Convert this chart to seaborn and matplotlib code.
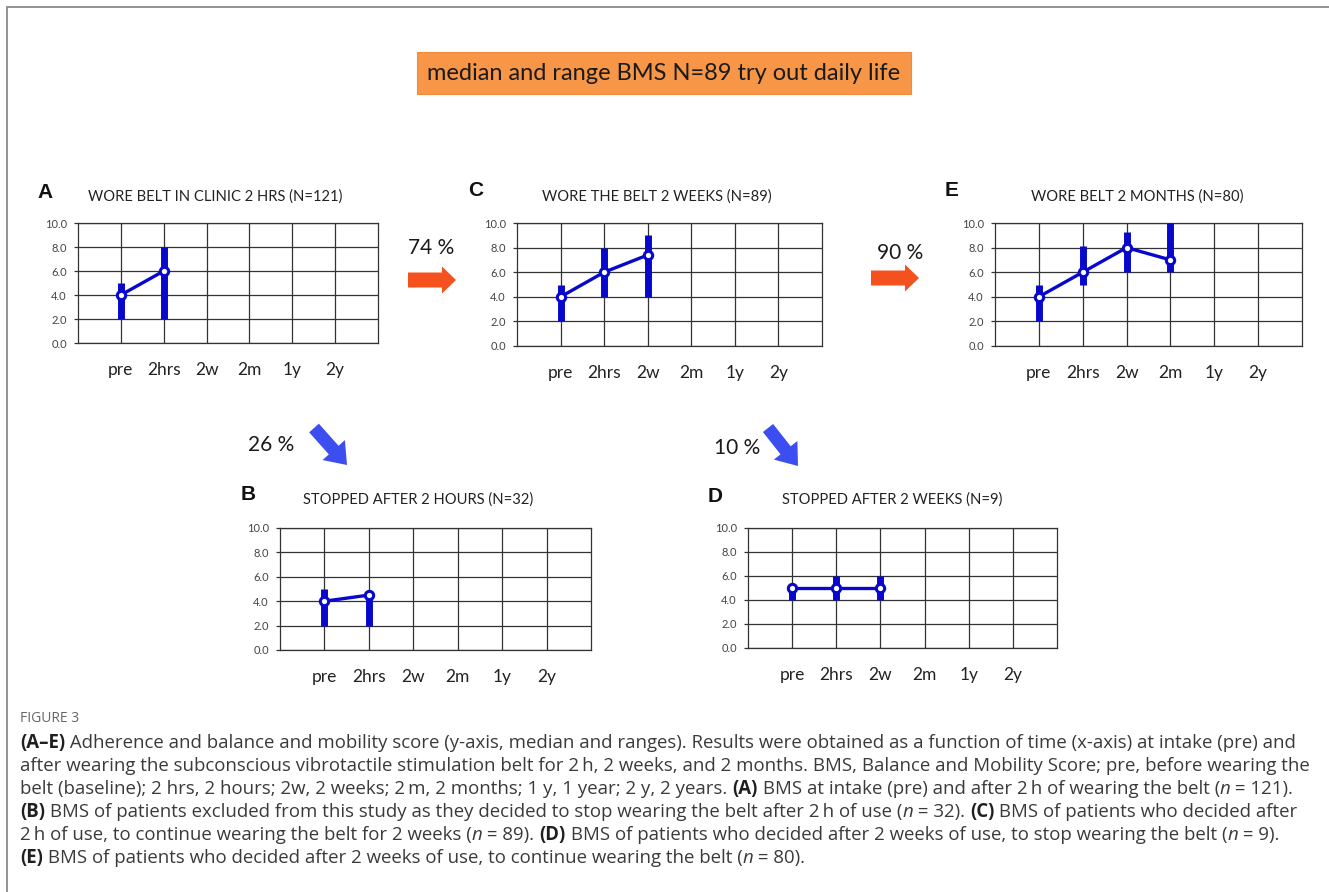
import numpy as np
import matplotlib
matplotlib.use("Agg")
import matplotlib.pyplot as plt
import seaborn as sns
from matplotlib.patches import FancyArrow

# --- data (median and range of the BMS) ---
timepoints = ["pre", "2hrs", "2w", "2m", "1y", "2y"]

a_median = [4.0, 6.0]
a_low = [2.0, 2.0]
a_high = [5.0, 8.0]

b_median = [4.0, 4.5]
b_low = [2.0, 2.0]
b_high = [5.0, 4.7]

c_median = [4.0, 6.0, 7.4]
c_low = [2.0, 4.0, 4.0]
c_high = [5.0, 8.0, 9.0]

d_median = [5.0, 5.0, 5.0]
d_low = [4.0, 4.0, 4.0]
d_high = [5.0, 6.0, 6.0]

e_median = [4.0, 6.0, 8.0, 7.0]
e_low = [2.0, 5.0, 6.0, 6.0]
e_high = [5.0, 8.1, 9.3, 10.0]

y_ticks = [0, 2, 4, 6, 8, 10]

sns.set_style("white")
plt.rcParams["font.family"] = ["Lato", "DejaVu Sans"]

W, H = 1329, 892
BLUE = "#0808cc"
GRID = "#333333"

fig = plt.figure(figsize=(W / 100, H / 100), dpi=100)

# background axes in pixel coordinates for texts, arrows and the frame
bg = fig.add_axes([0, 0, 1, 1], zorder=0)
bg.set_xlim(0, W)
bg.set_ylim(H, 0)
bg.axis("off")

# frame
bg.plot([7, 7, W], [H, 7, 7], color="#8a8a8a", lw=1.3, solid_joinstyle="miter")


def panel_axes(x0, x1, y0, y1):
    return fig.add_axes([x0 / W, 1 - y1 / H, (x1 - x0) / W, (y1 - y0) / H], zorder=2)


def draw_panel(ax, median, low, high):
    pos = np.arange(1, len(median) + 1)
    ax.vlines(pos, low, high, colors=BLUE, linewidth=5, capstyle="butt", zorder=3)
    sns.lineplot(x=pos, y=median, ax=ax, color=BLUE, linewidth=2.4, marker="o",
                 markersize=6, markerfacecolor="white", markeredgecolor=BLUE,
                 markeredgewidth=2.2, zorder=4)
    ax.set_xlim(0, 7)
    ax.set_ylim(0, 10)
    ax.set_xticks(range(1, 7))
    ax.set_xticklabels(timepoints)
    ax.set_yticks(y_ticks)
    ax.set_yticklabels([f"{v:.1f}" for v in y_ticks])
    ax.set_axisbelow(True)
    ax.grid(True, color=GRID, lw=0.9)
    for s in ax.spines.values():
        s.set_color(GRID)
        s.set_linewidth(0.9)
    ax.tick_params(axis="x", length=0, pad=14, labelsize=12.5, labelcolor="#222222")
    ax.tick_params(axis="y", left=True, length=3, width=0.9, color=GRID, pad=5,
                   labelsize=8, labelcolor="#444444")
    ax.set_xlabel("")
    ax.set_ylabel("")


panels = [
    (78, 378, 223, 343, a_median, a_low, a_high),
    (517, 822, 223, 346, c_median, c_low, c_high),
    (995, 1302, 223, 346, e_median, e_low, e_high),
    (280, 591, 528, 650, b_median, b_low, b_high),
    (748, 1057, 528, 648, d_median, d_low, d_high),
]
for x0, x1, y0, y1, med, lo, hi in panels:
    draw_panel(panel_axes(x0, x1, y0, y1), med, lo, hi)

# panel letters and titles
letters = [("A", 45, 192), ("C", 476, 190), ("E", 952, 191), ("B", 248, 495), ("D", 715, 496)]
for letter, x, y in letters:
    bg.text(x, y, letter, fontsize=15, fontweight="bold", family=["Liberation Sans"],
            ha="center", va="center", color="#111111")

titles = [
    ("WORE BELT IN CLINIC 2 HRS (N=121)", 215, 197),
    ("WORE THE BELT 2 WEEKS (N=89)", 657, 197),
    ("WORE BELT 2 MONTHS (N=80)", 1137, 197),
    ("STOPPED AFTER 2 HOURS (N=32)", 418, 500),
    ("STOPPED AFTER 2 WEEKS (N=9)", 892, 500),
]
for t, x, y in titles:
    bg.text(x, y, t, fontsize=10.6, ha="center", va="center", color="#222222")

# header box
bg.text(664, 73, "median and range BMS N=89 try out daily life", fontsize=17,
        ha="center", va="center", color="#1a1a1a",
        bbox=dict(boxstyle="square,pad=0.45", facecolor="#f79646", edgecolor="#f08a3c", lw=0.8))

# percentages and arrows
for txt, x, y in [("74 %", 431, 248), ("90 %", 900, 253), ("26 %", 271, 445), ("10 %", 737, 448)]:
    bg.text(x, y, txt, fontsize=15, ha="center", va="center", color="#1a1a1a")

ORANGE = "#f4511e"
for x, y in [(408, 280), (871, 278)]:
    bg.add_patch(FancyArrow(x, y, 48, 0, width=15, head_width=27, head_length=14,
                            length_includes_head=True, color=ORANGE, lw=0))

ABLUE = "#3d4ef0"
for x, y, dx, dy in [(314, 428, 33, 37), (768, 428, 30, 38)]:
    bg.add_patch(FancyArrow(x, y, dx, dy, width=13, head_width=30, head_length=20,
                            length_includes_head=True, color=ABLUE, lw=0))

# caption
bg.text(20, 718, "FIGURE 3", fontsize=10, color="#666666", family=["Open Sans"],
        va="center", ha="left")

caption = [
    [("b", "(A\u2013E)"), ("r", " Adherence and balance and mobility score (y-axis, median and ranges). Results were obtained as a function of time (x-axis) at intake (pre) and")],
    [("r", "after wearing the subconscious vibrotactile stimulation belt for 2\u2009h, 2 weeks, and 2 months. BMS, Balance and Mobility Score; pre, before wearing the")],
    [("r", "belt (baseline); 2 hrs, 2 hours; 2w, 2 weeks; 2\u2009m, 2 months; 1 y, 1 year; 2 y, 2 years. "), ("b", "(A)"),
     ("r", " BMS at intake (pre) and after 2\u2009h of wearing the belt ("), ("i", "n"), ("r", " = 121).")],
    [("b", "(B)"), ("r", " BMS of patients excluded from this study as they decided to stop wearing the belt after 2\u2009h of use ("),
     ("i", "n"), ("r", " = 32). "), ("b", "(C)"), ("r", " BMS of patients who decided after")],
    [("r", "2\u2009h of use, to continue wearing the belt for 2 weeks ("), ("i", "n"), ("r", " = 89). "), ("b", "(D)"),
     ("r", " BMS of patients who decided after 2 weeks of use, to stop wearing the belt ("), ("i", "n"), ("r", " = 9).")],
    [("b", "(E)"), ("r", " BMS of patients who decided after 2 weeks of use, to continue wearing the belt ("), ("i", "n"), ("r", " = 80).")],
]

renderer = fig.canvas.get_renderer()
styles = {
    "r": dict(color="#3a3a3a"),
    "b": dict(color="#1f1f1f", fontweight="bold"),
    "i": dict(color="#3a3a3a", style="italic"),
}
y = 743
for line in caption:
    x = 20
    for st, txt in line:
        t = bg.text(x, y, txt, fontsize=13.45, family=["Open Sans", "DejaVu Sans"], va="center", ha="left",
                    **styles[st])
        bb = t.get_window_extent(renderer=renderer)
        x += bb.width
    y += 23

fig.savefig("out.png", dpi=100)
